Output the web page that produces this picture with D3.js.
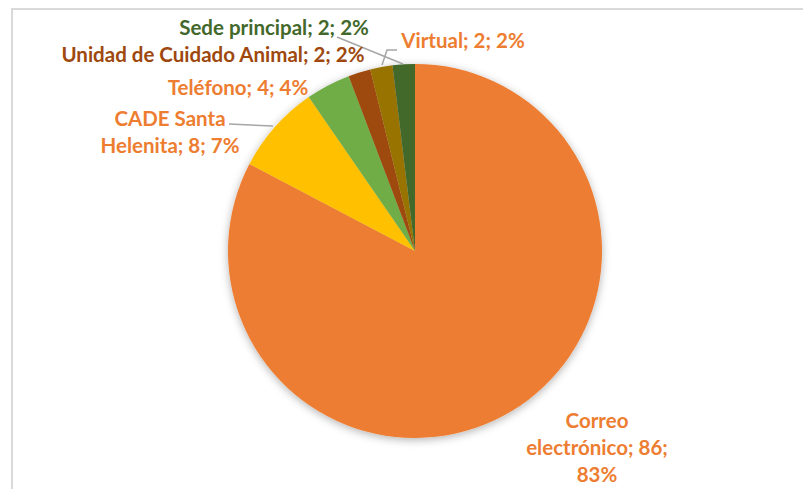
<!DOCTYPE html>
<html>
<head>
<meta charset="utf-8">
<script src="https://cdn.jsdelivr.net/npm/d3@7"></script>
<style>
  html, body { margin: 0; padding: 0; background: #fff; }
  svg { display: block; }
  text { font-family: Lato, "Open Sans", sans-serif; font-weight: bold; }
</style>
</head>
<body>
<svg id="chart" width="803" height="489"></svg>
<script>
// ---- data ----
const categories = ["Correo electrónico", "CADE Santa Helenita", "Teléfono", "Unidad de Cuidado Animal", "Virtual", "Sede principal"];
const values = [86, 8, 4, 2, 2, 2];
const percents = ["83%", "7%", "4%", "2%", "2%", "2%"];
const sliceColors = ["#ED7D31", "#FFC000", "#70AD47", "#9E480E", "#997300", "#43682B"];
const labelColors = ["#ED7D31", "#ED7D31", "#ED7D31", "#9E480E", "#ED7D31", "#43682B"];

// ---- layout (not data) ----
const W = 803, H = 489;
const cx = 415, cy = 251, R = 187;
const fontSize = 20.5, lineH = 27;
const labelLayout = [
  { x: 597, y: 428, anchor: "middle", lines: ["Correo", "electrónico; 86;", "83%"] },
  { x: 170, y: 126, anchor: "middle", lines: ["CADE Santa", "Helenita; 8; 7%"] },
  { x: 238, y: 95, anchor: "middle", lines: null },
  { x: 213, y: 62, anchor: "middle", lines: null },
  { x: 463, y: 48, anchor: "middle", lines: null },
  { x: 274, y: 35, anchor: "middle", lines: null }
];
const leaders = [
  null,
  [[229, 124], [273, 126]],
  null,
  null,
  [[397, 50], [387, 50], [382, 65]],
  [[337, 37], [403, 64]]
];

const svg = d3.select("#chart");

svg.append("rect")
  .attr("x", 12).attr("y", 9)
  .attr("width", W + 10).attr("height", H + 10)
  .attr("fill", "#fff").attr("stroke", "#d9d9d9").attr("stroke-width", 2);

const defs = svg.append("defs");
const f = defs.append("filter").attr("id", "shadow")
  .attr("x", "-20%").attr("y", "-20%").attr("width", "140%").attr("height", "140%");
f.append("feDropShadow").attr("dx", 0).attr("dy", 2).attr("stdDeviation", 4)
  .attr("flood-color", "#000").attr("flood-opacity", 0.3);

const pie = d3.pie().sort(null).value(d => d)(values);
const arc = d3.arc().innerRadius(0).outerRadius(R);

const g = svg.append("g").attr("transform", `translate(${cx},${cy})`);
g.append("g").attr("filter", "url(#shadow)")
  .selectAll("path").data(pie).join("path")
  .attr("d", arc)
  .attr("fill", (d, i) => sliceColors[i]);

const line = d3.line();
svg.append("g").selectAll("path")
  .data(leaders.filter(l => l))
  .join("path")
  .attr("d", d => line(d))
  .attr("fill", "none")
  .attr("stroke", "#a6a6a6")
  .attr("stroke-width", 1.5);

categories.forEach((c, i) => {
  const L = labelLayout[i];
  const lines = L.lines || [`${c}; ${values[i]}; ${percents[i]}`];
  const t = svg.append("text")
    .attr("text-anchor", L.anchor)
    .attr("font-size", fontSize)
    .attr("fill", labelColors[i]);
  lines.forEach((ln, k) => {
    t.append("tspan").attr("x", L.x).attr("y", L.y + k * lineH).text(ln);
  });
});
</script>
</body>
</html>
